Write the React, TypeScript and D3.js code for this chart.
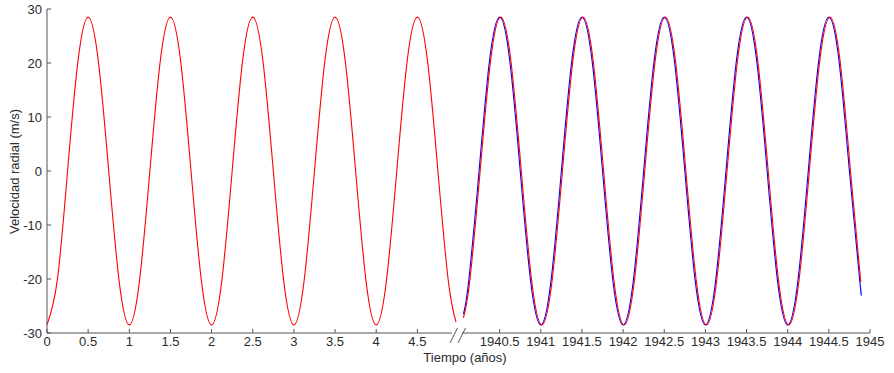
import React from "react";
import * as d3 from "d3";

// Left panel (years 0..5)
const leftTimes = [0, 0.125, 0.25, 0.375, 0.5, 0.625, 0.75, 0.875, 1, 1.125, 1.25, 1.375, 1.5, 1.625, 1.75, 1.875, 2, 2.125, 2.25, 2.375, 2.5, 2.625, 2.75, 2.875, 3, 3.125, 3.25, 3.375, 3.5, 3.625, 3.75, 3.875, 4, 4.125, 4.25, 4.375, 4.5, 4.625, 4.75, 4.875, 4.97];
const leftValues = [-28.5, -20.2, 0, 20.2, 28.5, 20.2, 0, -20.2, -28.5, -20.2, 0, 20.2, 28.5, 20.2, 0, -20.2, -28.5, -20.2, 0, 20.2, 28.5, 20.2, 0, -20.2, -28.5, -20.2, 0, 20.2, 28.5, 20.2, 0, -20.2, -28.5, -20.2, 0, 20.2, 28.5, 20.2, 0, -20.2, -28.0];

// Right panel (years 1940..1945), blue series
const rightBlueTimes = [1940.06, 1940.125, 1940.25, 1940.375, 1940.5, 1940.625, 1940.75, 1940.875, 1941, 1941.125, 1941.25, 1941.375, 1941.5, 1941.625, 1941.75, 1941.875, 1942, 1942.125, 1942.25, 1942.375, 1942.5, 1942.625, 1942.75, 1942.875, 1943, 1943.125, 1943.25, 1943.375, 1943.5, 1943.625, 1943.75, 1943.875, 1944, 1944.125, 1944.25, 1944.375, 1944.5, 1944.625, 1944.75, 1944.875, 1944.89];
const rightBlueValues = [-26.5, -20.2, 0, 20.2, 28.5, 20.2, 0, -20.2, -28.5, -20.2, 0, 20.2, 28.5, 20.2, 0, -20.2, -28.5, -20.2, 0, 20.2, 28.5, 20.2, 0, -20.2, -28.5, -20.2, 0, 20.2, 28.5, 20.2, 0, -20.2, -28.5, -20.2, 0, 20.2, 28.5, 20.2, 0, -20.2, -22.2];

// Right panel, red series (slightly lagging)
const rightRedTimes = [1940.06, 1940.138, 1940.263, 1940.388, 1940.513, 1940.638, 1940.763, 1940.888, 1941.013, 1941.138, 1941.263, 1941.388, 1941.513, 1941.638, 1941.763, 1941.888, 1942.013, 1942.138, 1942.263, 1942.388, 1942.513, 1942.638, 1942.763, 1942.888, 1943.013, 1943.138, 1943.263, 1943.388, 1943.513, 1943.638, 1943.763, 1943.888, 1944.013, 1944.138, 1944.263, 1944.388, 1944.513, 1944.638, 1944.763, 1944.888];
const rightRedValues = [-27.2, -20.2, 0, 20.2, 28.5, 20.2, 0, -20.2, -28.5, -20.2, 0, 20.2, 28.5, 20.2, 0, -20.2, -28.5, -20.2, 0, 20.2, 28.5, 20.2, 0, -20.2, -28.5, -20.2, 0, 20.2, 28.5, 20.2, 0, -20.2, -28.5, -20.2, 0, 20.2, 28.5, 20.2, 0, -20.6];

const yTicks = [-30, -20, -10, 0, 10, 20, 30];
const leftXTicks = [0, 0.5, 1, 1.5, 2, 2.5, 3, 3.5, 4, 4.5];
const rightXTicks = [1940.5, 1941, 1941.5, 1942, 1942.5, 1943, 1943.5, 1944, 1944.5, 1945];

const W = 894;
const H = 373;
const axisColor = "#555";
const textColor = "#2a2a2a";
const font = "'Liberation Sans', Arial, Helvetica, sans-serif";

export default function App() {
  const xL = d3.scaleLinear().domain([0, 5]).range([47, 458.5]);
  const xR = d3.scaleLinear().domain([1940, 1945]).range([458.5, 870]);
  const y = d3.scaleLinear().domain([-30, 30]).range([333, 9]);

  const mk = (xs: d3.ScaleLinear<number, number>) =>
    d3
      .line<[number, number]>()
      .x((d) => xs(d[0]))
      .y((d) => y(d[1]))
      .curve(d3.curveNatural);

  const zipT = (t: number[], v: number[]) => t.map((tt, i) => [tt, v[i]] as [number, number]);

  const leftPath = mk(xL)(zipT(leftTimes, leftValues)) || "";
  const blueRPath = mk(xR)(zipT(rightBlueTimes, rightBlueValues)) || "";
  const redRPath = mk(xR)(zipT(rightRedTimes, rightRedValues)) || "";

  const y0 = y(-30);
  const x0 = xL(0);

  return (
    <svg width={W} height={H} style={{ position: "absolute", left: 0, top: 0, background: "#fff" }} fontFamily={font}>
      {/* curves */}
      <path d={leftPath} fill="none" stroke="#ff0000" strokeWidth={1.1} />
      <path d={blueRPath} fill="none" stroke="#0000ff" strokeWidth={1.1} />
      <path d={redRPath} fill="none" stroke="#ff0000" strokeWidth={1.1} />

      {/* y axis */}
      <line x1={x0} x2={x0} y1={y(30)} y2={y0} stroke={axisColor} strokeWidth={1} />
      {yTicks.map((t) => (
        <g key={"y" + t}>
          <line x1={x0} x2={x0 + 4} y1={y(t)} y2={y(t)} stroke={axisColor} strokeWidth={1} />
          <text x={x0 - 5} y={y(t)} dy="0.35em" textAnchor="end" fontSize={13} fill={textColor}>
            {t}
          </text>
        </g>
      ))}

      {/* x axis */}
      <line x1={x0} x2={452} y1={y0} y2={y0} stroke={axisColor} strokeWidth={1} />
      <line x1={462} x2={xR(1945)} y1={y0} y2={y0} stroke={axisColor} strokeWidth={1} />
      {leftXTicks.map((t) => (
        <g key={"xl" + t}>
          <line x1={xL(t)} x2={xL(t)} y1={y0} y2={y0 - 4} stroke={axisColor} strokeWidth={1} />
          <text x={xL(t)} y={y0 + 13} textAnchor="middle" fontSize={13} fill={textColor}>
            {t}
          </text>
        </g>
      ))}
      {rightXTicks.map((t) => (
        <g key={"xr" + t}>
          <line x1={xR(t)} x2={xR(t)} y1={y0} y2={y0 - 4} stroke={axisColor} strokeWidth={1} />
          <text x={xR(t)} y={y0 + 13} textAnchor="middle" fontSize={13} fill={textColor}>
            {t}
          </text>
        </g>
      ))}

      {/* axis break marks */}
      <line x1={450} y1={343} x2={457.5} y2={328} stroke={axisColor} strokeWidth={1} />
      <line x1={458} y1={343} x2={465.5} y2={328} stroke={axisColor} strokeWidth={1} />

      {/* titles */}
      <text x={465} y={362} textAnchor="middle" fontSize={13} fill={textColor}>
        Tiempo (años)
      </text>
      <text
        transform={`translate(19, ${171.5}) rotate(-90)`}
        textAnchor="middle"
        fontSize={13}
        fill={textColor}
      >
        Velocidad radial (m/s)
      </text>
    </svg>
  );
}
